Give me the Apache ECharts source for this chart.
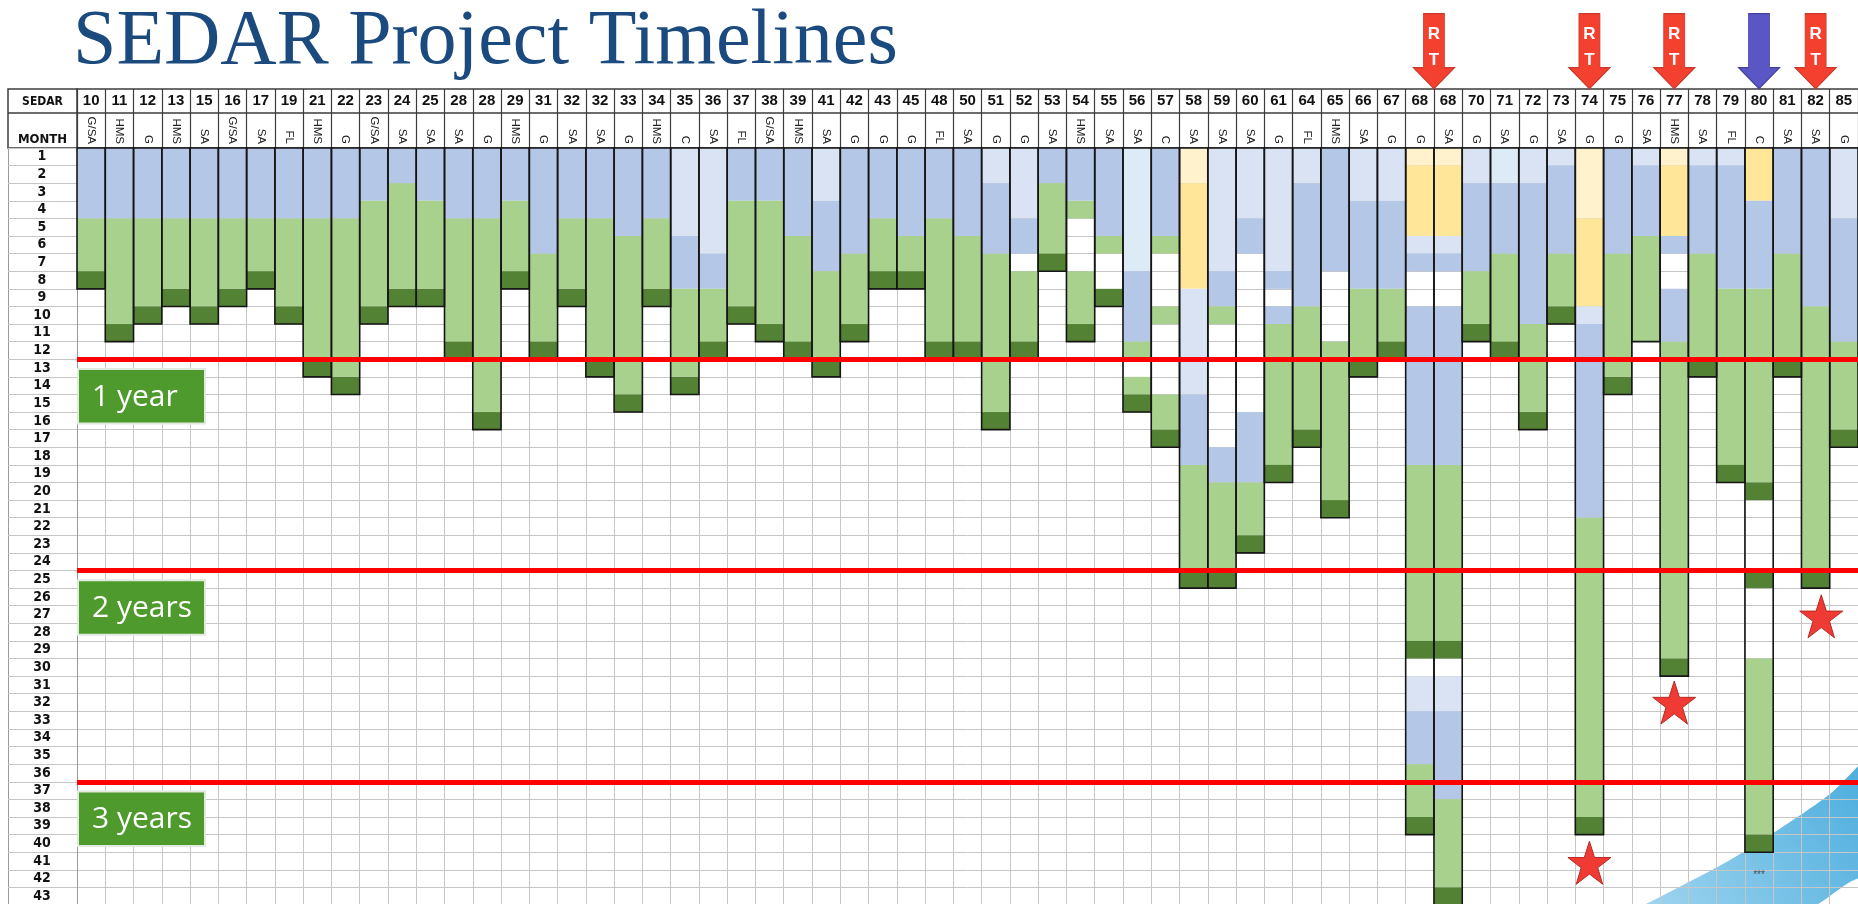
<!DOCTYPE html>
<html>
<head>
<meta charset="utf-8">
<title>SEDAR Project Timelines</title>
<script src="https://cdn.jsdelivr.net/npm/echarts@6/dist/echarts.min.js"></script>
<style>
	html, body { margin: 0; padding: 0; background: #fff; }
	#timeline { width: 1858px; height: 904px; }
</style>
</head>
<body>
<div id="timeline"></div>
<script>
'use strict';

/****** data *****/
var sedarNumbers = ['10', '11', '12', '13', '15', '16', '17', '19', '21', '22', '23', '24', '25', '28', '28', '29', '31', '32', '32', '33',
	'34', '35', '36', '37', '38', '39', '41', '42', '43', '45', '48', '50', '51', '52', '53', '54', '55', '56', '57', '58',
	'59', '60', '61', '64', '65', '66', '67', '68', '68', '70', '71', '72', '73', '74', '75', '76', '77', '78', '79', '80',
	'81', '82', '85'];
var regions = ['G/SA', 'HMS', 'G', 'HMS', 'SA', 'G/SA', 'SA', 'FL', 'HMS', 'G', 'G/SA', 'SA', 'SA', 'SA', 'G', 'HMS', 'G', 'SA', 'SA', 'G',
	'HMS', 'C', 'SA', 'FL', 'G/SA', 'HMS', 'SA', 'G', 'G', 'G', 'FL', 'SA', 'G', 'G', 'SA', 'HMS', 'SA', 'SA', 'C', 'SA',
	'SA', 'SA', 'G', 'FL', 'HMS', 'SA', 'G', 'G', 'SA', 'G', 'SA', 'G', 'SA', 'G', 'G', 'SA', 'HMS', 'SA', 'FL', 'C',
	'SA', 'SA', 'G'];
var monthLabels = ['1', '2', '3', '4', '5', '6', '7', '8', '9', '10', '11', '12', '13', '14', '15', '16', '17', '18', '19', '20',
	'21', '22', '23', '24', '25', '26', '27', '28', '29', '30', '31', '32', '33', '34', '35', '36', '37', '38', '39', '40',
	'41', '42', '43'];
// months spent in each phase, top to bottom:
// P pale blue, L light blue, B blue, Y light yellow, O yellow, G green, D dark green, W blank
var phases = [
	'B4 G3 D1', 'B4 G6 D1', 'B4 G5 D1', 'B4 G4 D1', 'B4 G5 D1', 'B4 G4 D1', 'B4 G3 D1', 'B4 G5 D1', 'B4 G8 D1', 'B4 G9 D1',
	'B3 G6 D1', 'B2 G6 D1', 'B3 G5 D1', 'B4 G7 D1', 'B4 G11 D1', 'B3 G4 D1', 'B6 G5 D1', 'B4 G4 D1', 'B4 G8 D1', 'B5 G9 D1',
	'B4 G4 D1', 'L5 B3 G5 D1', 'L6 B2 G3 D1', 'B3 G6 D1', 'B3 G7 D1', 'B5 G6 D1', 'L3 B4 G5 D1', 'B6 G4 D1', 'B4 G3 D1', 'B5 G2 D1',
	'B4 G7 D1', 'B5 G6 D1', 'L2 B4 G9 D1', 'L4 B2 W1 G4 D1', 'B2 G4 D1', 'B3 G1 W3 G3 D1', 'B5 G1 W2 D1', 'P7 B4 G1 W1 G1 D1',
	'B5 G1 W3 G1 W4 G2 D1', 'Y2 O6 L6 B4 G6 D1',
	'L7 B2 G1 W7 B2 G5 D1', 'L4 B2 W9 B4 G3 D1', 'L7 B1 W1 B1 G8 D1', 'L2 B7 G7 D1', 'B7 W4 G9 D1', 'L3 B5 G4 D1', 'L3 B5 G3 D1',
	'Y1 O4 L1 B1 W2 B9 G10 D1 W1 L2 B3 G3 D1', 'Y1 O4 L1 B1 W2 B9 G10 D1 W1 L2 B5 G5 D1',
	'L2 B5 G3 D1', 'P2 B4 G5 D1', 'L2 B8 G5 D1', 'L1 B5 G3 D1', 'Y4 O5 L1 B11 G17 D1', 'B6 G7 D1', 'L1 B4 G6',
	'Y1 O4 B1 W2 B3 G18 D1', 'L1 B5 G6 D1', 'L1 B7 G10 D1', 'O3 B5 G11 D1 W4 D1 W4 G10 D1', 'B6 G6 D1', 'B9 G15 D1', 'L4 B7 G5 D1'
];
var milestoneMonths = [12, 24, 36];
var milestoneLabels = ['1 year', '2 years', '3 years'];
var rtArrowCols = [47.5, 53, 56, 61];
var nextArrowCols = [59];
var starPoints = [[61.2, 26.6], [56, 31.5], [53, 40.6]];
var notePoints = [[59, 41.3]];

/****** build *****/
var phaseColors = { P: '#ddebf7', L: '#dae3f3', B: '#b4c7e7', Y: '#fff2cc', O: '#ffe699', G: '#a9d18e', D: '#548235' };
var segmentData = [];
var outlineData = [];
phases.forEach(function (str, col) {
	var start = 0;
	str.split(' ').forEach(function (tok) {
		var code = tok.charAt(0);
		var len = +tok.slice(1);
		if (code !== 'W') {
			segmentData.push({ value: [col, start, start + len], itemStyle: { color: phaseColors[code] } });
		}
		start += len;
	});
	outlineData.push([col, 0, start]);
});

var ARROW_ROW = -5.5;
var arrowPath = 'path://M10,0 L31,0 L31,54 L41,54 L20.5,75 L0,54 L10,54 Z';
var starPath = 'path://M50,0 L61.8,36 L99.5,36 L69,58.5 L80.5,95 L50,72.5 L19.5,95 L31,58.5 L0.5,36 L38.2,36 Z';
var gridLine = '#c6c6c6';
var frame = '#3c3c3c';

function renderSegment(params, api) {
	var p0 = api.coord([api.value(0) - 0.5, api.value(1)]);
	var p1 = api.coord([api.value(0) + 0.5, api.value(2)]);
	return {
		type: 'rect',
		shape: { x: p0[0], y: p0[1], width: p1[0] - p0[0], height: p1[1] - p0[1] },
		style: { fill: api.visual('color') }
	};
}

function renderOutline(params, api) {
	var p0 = api.coord([api.value(0) - 0.5, api.value(1)]);
	var p1 = api.coord([api.value(0) + 0.5, api.value(2)]);
	return {
		type: 'rect',
		shape: { x: p0[0], y: p0[1], width: p1[0] - p0[0], height: p1[1] - p0[1] },
		style: { fill: null, stroke: '#151515', lineWidth: 1.6 }
	};
}

function renderMilestone(params, api) {
	var p0 = api.coord([-0.5, api.value(0) + 0.55]);
	var h = Math.abs(api.size([0, 3.1])[1]);
	return {
		type: 'group',
		children: [
			{
				type: 'rect',
				shape: { x: p0[0] + 1, y: p0[1], width: 127, height: h },
				style: { fill: '#4e9a2c', stroke: '#e2e9de', lineWidth: 2 }
			},
			{
				type: 'text',
				x: p0[0] + 15,
				y: p0[1] + h / 2 + 1,
				style: {
					text: milestoneLabels[params.dataIndex],
					fill: '#ffffff',
					fontSize: 30,
					fontFamily: '"Open Sans", sans-serif',
					verticalAlign: 'middle'
				}
			}
		]
	};
}

var option = {
	animation: false,
	backgroundColor: '#ffffff',
	grid: { left: 77, top: 148, width: 1781, height: 757, outerBoundsMode: 'none' },
	xAxis: [
		{
			type: 'category',
			position: 'top',
			data: regions,
			axisLine: { show: true, onZero: false, lineStyle: { color: frame, width: 1.5 } },
			axisTick: { show: true, interval: 0, length: 59, lineStyle: { color: frame, width: 1.2 } },
			axisLabel: { interval: 0, rotate: 90, margin: 4, fontSize: 11.5, fontFamily: '"Liberation Sans", Arial, sans-serif', color: '#222' },
			splitLine: { show: true, interval: 0, lineStyle: { color: gridLine, width: 1 } }
		},
		{
			type: 'category',
			position: 'top',
			offset: 35,
			data: sedarNumbers,
			axisLine: { show: true, onZero: false, lineStyle: { color: frame, width: 1.5 } },
			axisTick: { show: false },
			axisLabel: { interval: 0, margin: 5, fontSize: 15, fontWeight: 'bold', fontFamily: '"Liberation Sans", Arial, sans-serif', color: '#111' },
			splitLine: { show: false }
		},
		{
			type: 'category',
			position: 'top',
			offset: 59,
			data: sedarNumbers,
			axisLine: { show: true, onZero: false, lineStyle: { color: frame, width: 1.5 } },
			axisTick: { show: false },
			axisLabel: { show: false },
			splitLine: { show: false }
		},
		{
			type: 'value',
			min: -0.5,
			max: 62.5,
			show: false
		}
	],
	yAxis: [
		{
			type: 'category',
			position: 'left',
			inverse: true,
			data: monthLabels,
			axisLine: { show: true, onZero: false, lineStyle: { color: '#9a9a9a', width: 1 } },
			axisTick: { show: true, interval: 0, length: 69, lineStyle: { color: gridLine, width: 1 } },
			axisLabel: { interval: 0, align: 'center', margin: 35, fontSize: 14, fontWeight: 'bold', fontFamily: '"Liberation Sans Narrow", "DejaVu Sans Condensed", sans-serif', color: '#111' },
			splitLine: { show: true, interval: 0, lineStyle: { color: gridLine, width: 1 } }
		},
		{
			type: 'value',
			min: 0,
			max: 43,
			inverse: true,
			show: false
		},
		{
			type: 'value',
			position: 'left',
			offset: 69,
			min: 0,
			max: 43,
			axisLine: { show: true, onZero: false, lineStyle: { color: '#9a9a9a', width: 1 } },
			axisTick: { show: false },
			axisLabel: { show: false },
			splitLine: { show: false }
		}
	],
	graphic: [
		{
			type: 'text',
			x: 73,
			y: 43,
			style: {
				text: 'SEDAR Project Timelines',
				fill: '#1a4a7e',
				fontSize: 78,
				fontFamily: '"Liberation Serif", "DejaVu Serif", serif',
				verticalAlign: 'middle'
			}
		},
		{
			type: 'rect',
			shape: { x: 8, y: 89, width: 69, height: 59 },
			style: { fill: null, stroke: frame, lineWidth: 1.5 }
		},
		{
			type: 'line',
			shape: { x1: 8, y1: 113, x2: 77, y2: 113 },
			style: { stroke: frame, lineWidth: 1.5 }
		},
		{
			type: 'text', x: 42.5, y: 102,
			style: { text: 'SEDAR', fill: '#111', fontSize: 12, fontWeight: 'bold', fontFamily: '"Liberation Sans Narrow", "DejaVu Sans Condensed", sans-serif', align: 'center', verticalAlign: 'middle' }
		},
		{
			type: 'text', x: 42.5, y: 140,
			style: { text: 'MONTH', fill: '#111', fontSize: 13, fontWeight: 'bold', fontFamily: '"Liberation Sans Narrow", "DejaVu Sans Condensed", sans-serif', align: 'center', verticalAlign: 'middle' }
		},
		{
			type: 'polygon',
			z: 0,
			shape: {
				points: [[1600, 930], [1660, 897], [1730, 860], [1790, 822], [1830, 794], [1880, 752], [1880, 865], [1850, 882], [1800, 912]],
				smooth: 0.3
			},
			style: {
				fill: new echarts.graphic.LinearGradient(1, 0, 0, 1, [
					{ offset: 0, color: '#2fa0d8' },
					{ offset: 1, color: '#a6d8f1' }
				]),
				opacity: 0.9
			}
		}
	],
	series: [
		{
			name: 'phases',
			type: 'custom',
			xAxisIndex: 3,
			yAxisIndex: 1,
			z: 3,
			encode: { x: 0, y: [1, 2] },
			renderItem: renderSegment,
			data: segmentData
		},
		{
			name: 'projects',
			type: 'custom',
			xAxisIndex: 3,
			yAxisIndex: 1,
			z: 4,
			encode: { x: 0, y: [1, 2] },
			renderItem: renderOutline,
			data: outlineData,
			markLine: {
				silent: true,
				symbol: 'none',
				label: { show: false },
				lineStyle: { color: '#ff0000', width: 5, type: 'solid' },
				data: milestoneMonths.map(function (m) { return { yAxis: m }; })
			}
		},
		{
			name: 'milestones',
			type: 'custom',
			xAxisIndex: 3,
			yAxisIndex: 1,
			z: 6,
			renderItem: renderMilestone,
			data: milestoneMonths.map(function (m) { return [m]; })
		},
		{
			name: 'RT',
			type: 'scatter',
			xAxisIndex: 3,
			yAxisIndex: 1,
			clip: false,
			z: 8,
			symbol: arrowPath,
			symbolSize: [41, 75],
			itemStyle: { color: '#f4402f', borderColor: '#c9372a', borderWidth: 1, opacity: 1 },
			label: {
				show: true,
				position: 'inside',
				offset: [0, -4],
				formatter: 'R\nT',
				color: '#ffffff',
				fontSize: 17,
				fontWeight: 'bold',
				lineHeight: 26,
				fontFamily: '"Liberation Sans", Arial, sans-serif'
			},
			data: rtArrowCols.map(function (c) { return [c, ARROW_ROW]; })
		},
		{
			name: 'next',
			type: 'scatter',
			xAxisIndex: 3,
			yAxisIndex: 1,
			clip: false,
			z: 8,
			symbol: arrowPath,
			symbolSize: [41, 75],
			itemStyle: { color: '#5b56c6', borderColor: '#433fa0', borderWidth: 1, opacity: 1 },
			data: nextArrowCols.map(function (c) { return [c, ARROW_ROW]; })
		},
		{
			name: 'stars',
			type: 'scatter',
			xAxisIndex: 3,
			yAxisIndex: 1,
			clip: false,
			z: 8,
			symbol: starPath,
			symbolSize: 43,
			itemStyle: { color: '#ef3b33', borderColor: '#b52b23', borderWidth: 1, opacity: 1 },
			data: starPoints
		},
		{
			name: 'note',
			type: 'scatter',
			xAxisIndex: 3,
			yAxisIndex: 1,
			z: 8,
			symbolSize: 0,
			label: { show: true, position: 'inside', formatter: '***', color: '#333', fontSize: 10 },
			data: notePoints
		}
	]
};

var timeline = echarts.init(document.getElementById('timeline'));
timeline.setOption(option);
</script>
</body>
</html>
